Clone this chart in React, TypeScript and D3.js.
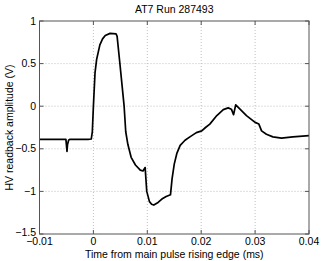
import React from "react";
import * as d3 from "d3";

const times = [
  -0.01, -0.0055, -0.0051, -0.0049, -0.0048, -0.0046, -0.0044, -0.001, -0.0004, -0.0002,
  0.0, 0.0003, 0.0006, 0.0012, 0.0017, 0.0022, 0.0031, 0.0042, 0.0044, 0.0049,
  0.0057, 0.006, 0.0064, 0.007, 0.0078, 0.0087, 0.0092, 0.0096, 0.0099, 0.0104,
  0.0108, 0.0112, 0.012, 0.0127, 0.0135, 0.0143, 0.0146, 0.015, 0.0155, 0.0161,
  0.017, 0.0179, 0.0191, 0.0201, 0.0208, 0.0216, 0.0229, 0.0241, 0.025, 0.0256,
  0.026, 0.0264, 0.0272, 0.0284, 0.03, 0.0307, 0.0312, 0.0321, 0.0333, 0.0349,
  0.037, 0.04,
];
const amplitudes = [
  -0.39, -0.39, -0.39, -0.53, -0.45, -0.4, -0.39, -0.39, -0.385, -0.3,
  0.0, 0.39, 0.55, 0.72, 0.79, 0.83, 0.855, 0.85, 0.82, 0.51,
  0.0, -0.3, -0.45, -0.6, -0.69, -0.75, -0.76, -0.72, -1.0, -1.12,
  -1.15, -1.16, -1.13, -1.09, -1.06, -1.04, -0.85, -0.68, -0.55, -0.46,
  -0.4, -0.36, -0.31, -0.29, -0.25, -0.21, -0.11, -0.04, -0.02, -0.035,
  -0.1, 0.015, -0.035, -0.11, -0.19, -0.21, -0.29, -0.33, -0.36, -0.375,
  -0.36, -0.345,
];
const xTicks = [-0.01, 0, 0.01, 0.02, 0.03, 0.04];
const xTickLabels = ["\u22120.01", "0", "0.01", "0.02", "0.03", "0.04"];
const yTicks = [-1.5, -1, -0.5, 0, 0.5, 1];
const yTickLabels = ["\u22121.5", "\u22121", "\u22120.5", "0", "0.5", "1"];
const title = "AT7 Run 287493";
const xLabel = "Time from main pulse rising edge (ms)";
const yLabel = "HV readback amplitude (V)";

export default function App() {
  const W = 322, H = 261;
  const left = 39.5, right = 309, top = 21, bottom = 234;
  const x = d3.scaleLinear().domain([-0.01, 0.04]).range([left, right]);
  const y = d3.scaleLinear().domain([-1.5, 1]).range([bottom, top]);
  const pts = times.map((t, i) => [t, amplitudes[i]] as [number, number]);
  const line = d3.line<[number, number]>().x(d => x(d[0])).y(d => y(d[1]));
  const font = "'Liberation Sans', Arial, Helvetica, sans-serif";
  const tl = 4;
  return (
    <svg width={W} height={H} style={{ position: "absolute", left: 0, top: 0, background: "#fff" }} fontFamily={font}>
      <rect x={0} y={0} width={W} height={H} fill="#fff" />
      {xTicks.slice(1, -1).map((t, i) => (
        <line key={"gx" + i} x1={x(t)} x2={x(t)} y1={top} y2={bottom} stroke="#b0b0b0" strokeWidth={0.8} strokeDasharray="1,2" />
      ))}
      {yTicks.slice(1, -1).map((t, i) => (
        <line key={"gy" + i} x1={left} x2={right} y1={y(t)} y2={y(t)} stroke="#b0b0b0" strokeWidth={0.8} strokeDasharray="1,2" />
      ))}
      <path d={line(pts) || ""} fill="none" stroke="#000" strokeWidth={1.7} strokeLinejoin="round" />
      <rect x={left} y={top} width={right - left} height={bottom - top} fill="none" stroke="#555" strokeWidth={1} />
      {xTicks.map((t, i) => (
        <g key={"tx" + i}>
          <line x1={x(t)} x2={x(t)} y1={bottom} y2={bottom - tl} stroke="#555" />
          <line x1={x(t)} x2={x(t)} y1={top} y2={top + tl} stroke="#555" />
          <text x={x(t)} y={245} textAnchor="middle" fontSize={10.5} fill="#000">{xTickLabels[i]}</text>
        </g>
      ))}
      {yTicks.map((t, i) => (
        <g key={"ty" + i}>
          <line x1={left} x2={left + tl} y1={y(t)} y2={y(t)} stroke="#555" />
          <line x1={right} x2={right - tl} y1={y(t)} y2={y(t)} stroke="#555" />
          <text x={36} y={y(t) + (i === 0 ? 2 : 3.5)} textAnchor="end" fontSize={10.5} fill="#000">{yTickLabels[i]}</text>
        </g>
      ))}
      <text x={(left + right) / 2} y={13} textAnchor="middle" fontSize={10.5} fill="#000">{title}</text>
      <text x={(left + right) / 2} y={257.5} textAnchor="middle" fontSize={10.5} fill="#000">{xLabel}</text>
      <text transform={`translate(12.5,${(top + bottom) / 2}) rotate(-90)`} textAnchor="middle" fontSize={10.5} fill="#000">{yLabel}</text>
    </svg>
  );
}
